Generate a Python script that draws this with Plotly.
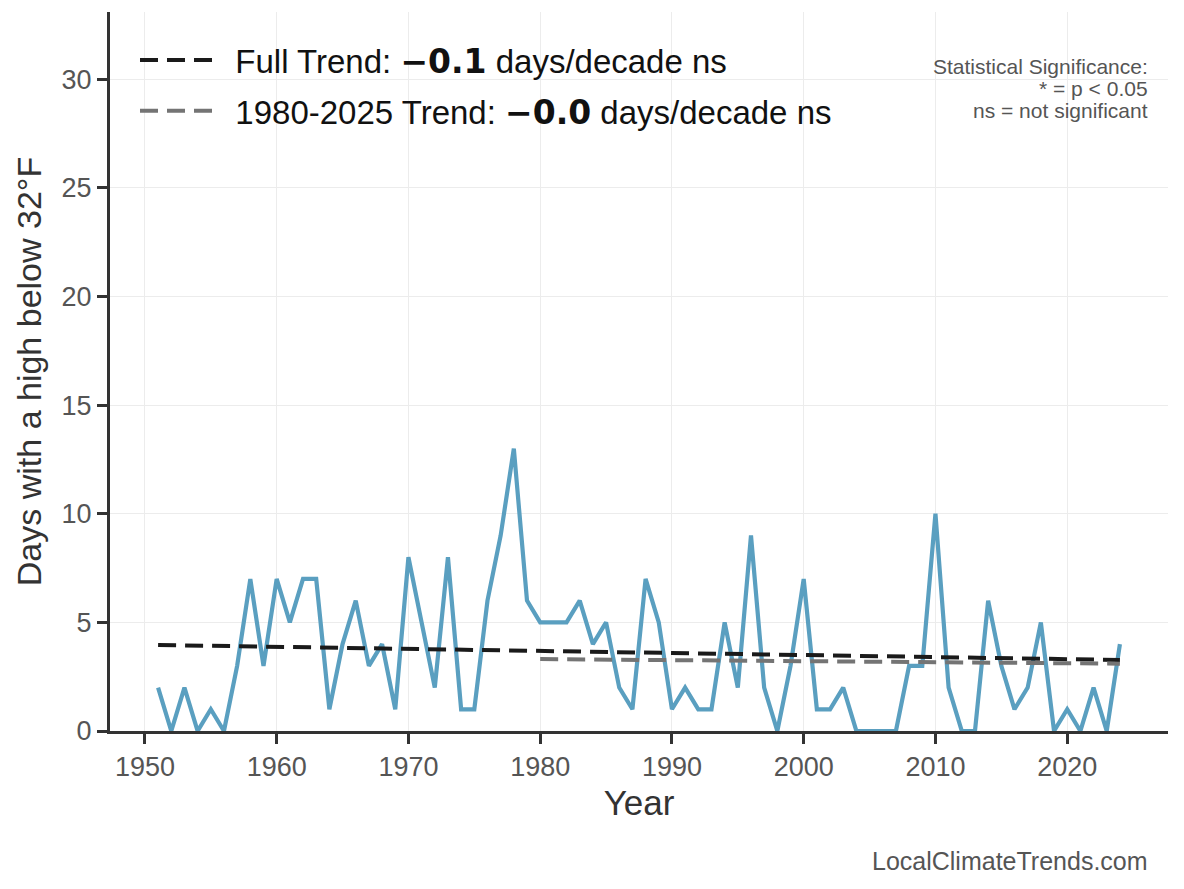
import plotly.graph_objects as go

years = list(range(1951, 2025))
days = [2, 0, 2, 0, 1, 0, 3, 7, 3, 7,
        5, 7, 7, 1, 4, 6, 3, 4, 1, 8,
        5, 2, 8, 1, 1, 6, 9, 13, 6, 5,
        5, 5, 6, 4, 5, 2, 1, 7, 5, 1,
        2, 1, 1, 5, 2, 9, 2, 0, 3, 7,
        1, 1, 2, 0, 0, 0, 0, 3, 3, 10,
        2, 0, 0, 6, 3, 1, 2, 5, 0, 1,
        0, 2, 0, 4]

# trend line endpoints
full_trend_years = [1951, 2024]
full_trend_vals = [3.96, 3.27]
recent_trend_years = [1980, 2024]
recent_trend_vals = [3.31, 3.10]

x_ticks = [1950, 1960, 1970, 1980, 1990, 2000, 2010, 2020]
y_ticks = [0, 5, 10, 15, 20, 25, 30]

full_label = '\u00a0\u00a0Full Trend: <span style="font-family:DejaVu Sans"><b>\u22120.1</b></span> days/decade ns'
recent_label = '\u00a0\u00a01980-2025 Trend: <span style="font-family:DejaVu Sans"><b>\u22120.0</b></span> days/decade ns'
sig_lines = ["Statistical Significance:", "* = p < 0.05", "ns = not significant"]
watermark = "LocalClimateTrends.com"

# page geometry (px); the page body adds an 8px offset
OFF = 8
W_FIG, H_FIG = 1184, 889
L_PX, R_PX, T_PX, B_PX = 110, 1168, 12, 731
H = B_PX - T_PX
W = R_PX - L_PX


def py(ypx):
    return (B_PX - ypx) / H


def px(xpx):
    return (xpx - L_PX) / W


fig = go.Figure()
fig.add_trace(go.Scatter(
    x=years, y=days, mode="lines",
    line=dict(color="#5a9fc0", width=4.2),
    showlegend=False, hoverinfo="x+y"))
fig.add_trace(go.Scatter(
    x=full_trend_years, y=full_trend_vals,
    mode="lines", name=full_label, legendgroup="a",
    line=dict(color="#1a1a1a", width=4, dash="18px,9px")))
fig.add_trace(go.Scatter(
    x=recent_trend_years, y=recent_trend_vals,
    mode="lines", name=recent_label, legendgroup="b",
    line=dict(color="#747474", width=4, dash="18px,9px")))

font_family = "Liberation Sans, Arial, sans-serif"
sig_y = [67, 88.5, 110]
annotations = [
    dict(text=t, xref="paper", yref="paper", x=px(1150), y=py(yy),
         xanchor="right", yanchor="middle", align="right", showarrow=False,
         font=dict(size=21, color="#555555", family=font_family))
    for t, yy in zip(sig_lines, sig_y)
]
annotations.append(
    dict(text=watermark, xref="paper", yref="paper", x=px(1150), y=py(861),
         xanchor="right", yanchor="middle", align="right", showarrow=False,
         font=dict(size=25, color="#555555", family=font_family)))

fig.update_layout(
    width=W_FIG, height=H_FIG,
    margin=dict(l=L_PX - OFF, r=W_FIG - R_PX + OFF, t=T_PX - OFF, b=H_FIG - B_PX + OFF),
    paper_bgcolor="white", plot_bgcolor="white",
    font=dict(family=font_family, color="#333333"),
    showlegend=True,
    legend=dict(x=px(135), y=py(32), xanchor="left", yanchor="top",
                font=dict(size=33, color="#111111", family=font_family),
                bgcolor="rgba(255,255,255,0)", borderwidth=0,
                tracegroupgap=5, itemwidth=72),
    xaxis=dict(range=[1947.35, 2027.65], tickvals=x_ticks,
               ticks="outside", ticklen=10, tickwidth=2.5, tickcolor="#333333",
               tickfont=dict(size=27, color="#555555"),
               showline=True, linecolor="#333333", linewidth=3,
               showgrid=True, gridcolor="#ececec", gridwidth=0.8,
               zeroline=False,
               title=dict(text="Year", font=dict(size=35, color="#333333"), standoff=10)),
    yaxis=dict(range=[0, 33.1], tickvals=y_ticks,
               ticks="outside", ticklen=10, tickwidth=2.5, tickcolor="#333333",
               tickfont=dict(size=27, color="#555555"),
               showline=True, linecolor="#333333", linewidth=3,
               showgrid=True, gridcolor="#ececec", gridwidth=0.8,
               zeroline=False,
               title=dict(text="Days with a high below 32\u00b0F", font=dict(size=34, color="#333333"), standoff=10)),
    annotations=annotations,
)

fig.write_html("out.html")
